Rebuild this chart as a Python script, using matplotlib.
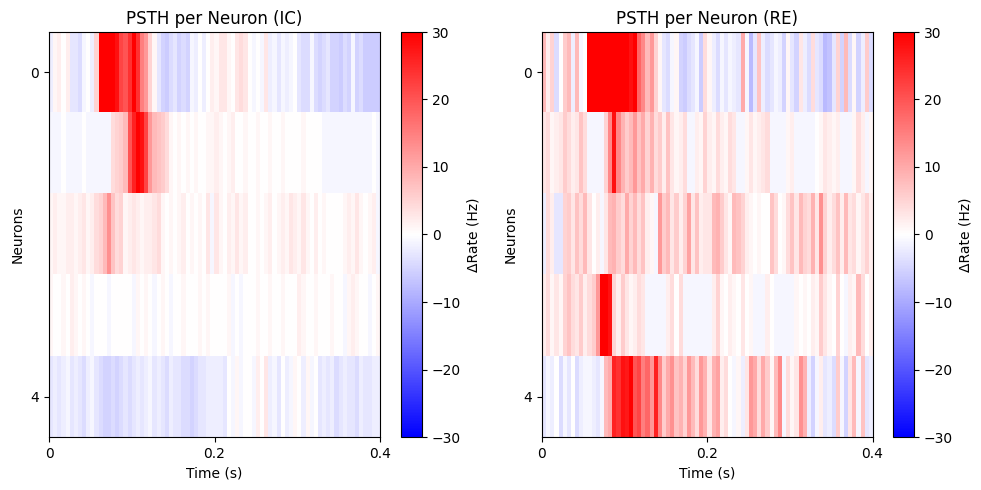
import matplotlib
matplotlib.use("Agg")
import matplotlib.pyplot as plt
import numpy as np

# ---------------- data (delta rate, Hz; 5 ms bins over 0-0.4 s) ----------------
T_END = 0.4

ic_n0 = [-2, 1, 2, 0, 2, -3, -3, -4, -1, 0, -2, 5, 30, 30, 30, 30, 28, 22, 20, 24,
         30, 24, 15, 12, 5, 1, -3, -5, -6, -4, -3, -5, -4, -5, -1, -2, 0, -2, 0, 2,
         1, 3, 3, 1, 0, 3, 4, 3, 0, -1, 0, -1, 3, -2, -1, -3, -1, -2, -1, 0,
         -3, -4, -4, -1, -4, -5, -4, -3, -5, -5, -6, -4, -5, -1, -5, -4, -6, -6, -6, -6]
ic_n1 = [-1, -1, -1, 0, -1, -1, -1, -1, 0, -1, -1, -1, -1, -1, -1, 4, 5, 6, 8, 20,
         26, 30, 28, 22, 12, 8, 7, 6, 4, 1, 0, 1, 0, 1, 0, 1, 0, 0, 1, 1,
         2, 1, 0, 1, 2, 0, 0, 1, 0, 0, 1, 0, 0, 1, 0, 0, 1, 0, 0, 0,
         0, 1, 0, 0, 0, 0, -1, -1, -1, -1, -1, -1, -1, -1, -1, -1, -1, -1, 0, -1]
ic_n2 = [1, 2, 1, 1, 2, 2, 1, 2, 3, 1, 2, 4, 5, 8, 13, 7, 4, 5, 1, 2,
         3, 2, 1, 2, 2, 3, 4, 1, 0, 1, 0, 1, 2, 0, 1, 0, 1, 0, 3, -1,
         3, 1, 0, 2, 1, 3, 1, 2, 0, 0, 1, 0, 1, 2, 0, 1, 2, 1, 3, 2,
         1, 3, 1, 0, 2, 0, 1, 0, 0, 0, 0, 1, 2, 1, 3, 1, 0, 1, 2, -1]
ic_n3 = [1, 0, 0, 1, 0, 2, 1, 0, 1, 0, -1, 0, 0, 0, -1, 0, 0, 0, 0, 0,
         -1, 1, 0, 1, 0, -1, 0, 1, 0, -1, 0, 0, 1, 0, 0, 0, 1, 0, 1, 0,
         0, 0, 0, 1, -1, 0, -1, 0, 0, 0, 1, 0, 0, 1, 0, 0, 1, 0, 0, 0,
         2, 1, 0, 0, 1, 0, 0, 0, 1, 0, 0, -1, 1, 2, 1, 0, 0, -1, 0, 1]
ic_n4 = [-3, -2, -3, -2, -1, -3, -2, -3, -4, -2, -1, -3, -4, -5, -5, -4, -5, -4, -3, -4,
         -3, -2, -3, -2, -1, -3, -2, -3, -4, -2, -3, -3, -4, -4, -5, -4, -3, -3, -2, -2,
         -2, -2, -3, 0, -1, 1, -1, 0, 0, -1, 2, 0, 3, -2, -1, -3, 0, -2, -1, 1,
         0, -2, 1, -1, 0, -3, -2, -3, -2, -4, -3, -2, -3, -3, -4, -2, -3, -3, -2, -2]

re_n0 = [8, 2, 5, -4, 0, 6, 8, -2, 8, -1, 0, 30, 30, 30, 30, 30, 30, 30, 30, 30,
         30, 28, 30, 18, 14, 8, 12, 5, 1, -3, -4, -1, 1, -5, -6, -4, -3, -1, -6, 4,
         1, -2, -4, -1, -3, -1, -2, -3, 10, -1, -8, -3, 7, -2, -4, -3, -1, -2, -5, 1,
         -3, -5, 3, -2, -4, 4, -3, -4, -8, -7, -3, 5, -5, 8, -4, 1, -5, -2, 6, -4]
re_n1 = [3, 4, 1, 2, 3, 6, 4, 2, 3, 7, 4, -1, -1, -1, -1, 5, 14, 28, 14, 9,
         6, 8, 12, 7, 10, 5, 9, 4, 6, 2, 7, 3, 1, 2, 4, -1, -1, 2, 1, 5,
         2, 1, 4, 2, 1, 4, 3, -1, -1, 1, 3, 1, 2, 3, 4, -1, -1, -1, -1, 1,
         2, -1, -1, -1, -1, -1, 0, 1, 3, 2, 1, 2, -1, -1, -1, 1, 4, 2, -1, 1]
re_n2 = [-2, 4, 2, -3, -3, 5, 6, 3, 7, 4, 8, 3, 0, 2, -1, 3, 8, 9, 6, 4,
         10, 5, 8, 4, 7, 2, 1, -1, 12, 6, 8, 3, 6, 2, 5, 11, 3, 7, 2, 3,
         3, 8, 9, 6, 3, 1, 8, 7, 5, 2, 1, 0, 1, 0, 0, 7, 4, 0, 1, 4,
         7, 3, 8, 5, 4, 9, 3, 13, 5, 2, 4, 7, 2, 8, 3, 4, 1, 3, 5, 2]
re_n3 = [2, 4, 1, 3, 1, 5, 7, 4, 3, 6, 2, 4, 6, 12, 30, 30, 28, 5, 2, 6,
         3, 1, 2, 4, 3, -1, -1, -1, -1, -1, 2, 4, 0, 4, -1, -1, -1, -1, -1, -1,
         -1, 2, 5, 1, 0, 2, 1, 0, 3, 0, 1, -1, -1, -1, 2, 0, -1, -1, -1, -1,
         -1, 1, 0, 1, 0, 2, 1, 6, 3, 1, 0, 5, 0, -1, 2, 1, 8, 4, 0, 2]
re_n4 = [-3, -1, -2, 0, -4, -1, -3, 0, -4, -2, -1, -1, -2, -3, -1, 8, 10, 26, 24, 28,
         27, 30, 20, 22, 15, 18, 12, 26, 14, 6, 10, 13, 7, 9, 5, 12, 8, 4, 12, 9,
         3, 9, 11, 2, 4, 0, -1, 1, -2, 3, 12, 10, 4, 10, 6, 1, 8, 14, -1, 4,
         1, 3, 13, 9, -2, -5, -1, 2, -3, -2, -4, 6, -1, -5, 3, 8, -1, 7, -3, -2]

ic_rows = [ic_n0, ic_n1, ic_n2, ic_n3, ic_n4]
re_rows = [re_n0, re_n1, re_n2, re_n3, re_n4]
titles = ["PSTH per Neuron (IC)", "PSTH per Neuron (RE)"]

# ---------------- layout (pixel boxes of the 981x490 reference) ----------------
W, H = 981, 490


def box(x0, x1, y0, y1):
    return [x0 / W, (H - y1) / H, (x1 - x0) / W, (y1 - y0) / H]


fig = plt.figure(figsize=(W / 100, H / 100), dpi=100)
panels = [
    (box(49, 380, 32, 437), box(400.5, 422, 32, 437)),
    (box(541.5, 872.5, 32, 437), box(893, 914, 32, 437)),
]

for (ax_box, cb_box), rows, title in zip(panels, [ic_rows, re_rows], titles):
    ax = fig.add_axes(ax_box)
    cax = fig.add_axes(cb_box)
    mat = np.array(rows, dtype=float)
    n = mat.shape[0]
    im = ax.imshow(mat, aspect='auto', cmap='bwr', vmin=-30, vmax=30,
                   interpolation='nearest',
                   extent=[0, T_END, n - 0.5, -0.5])
    ax.set_title(title, fontsize=12)
    ax.set_xlabel("Time (s)")
    ax.set_ylabel("Neurons")
    ax.set_xticks([0, 0.2, 0.4])
    ax.set_xticklabels(["0", "0.2", "0.4"])
    ax.set_yticks([0, n - 1])
    cb = fig.colorbar(im, cax=cax)
    cb.set_ticks([-30, -20, -10, 0, 10, 20, 30])
    cb.set_label("ΔRate (Hz)")

fig.savefig("out.png", dpi=100)
